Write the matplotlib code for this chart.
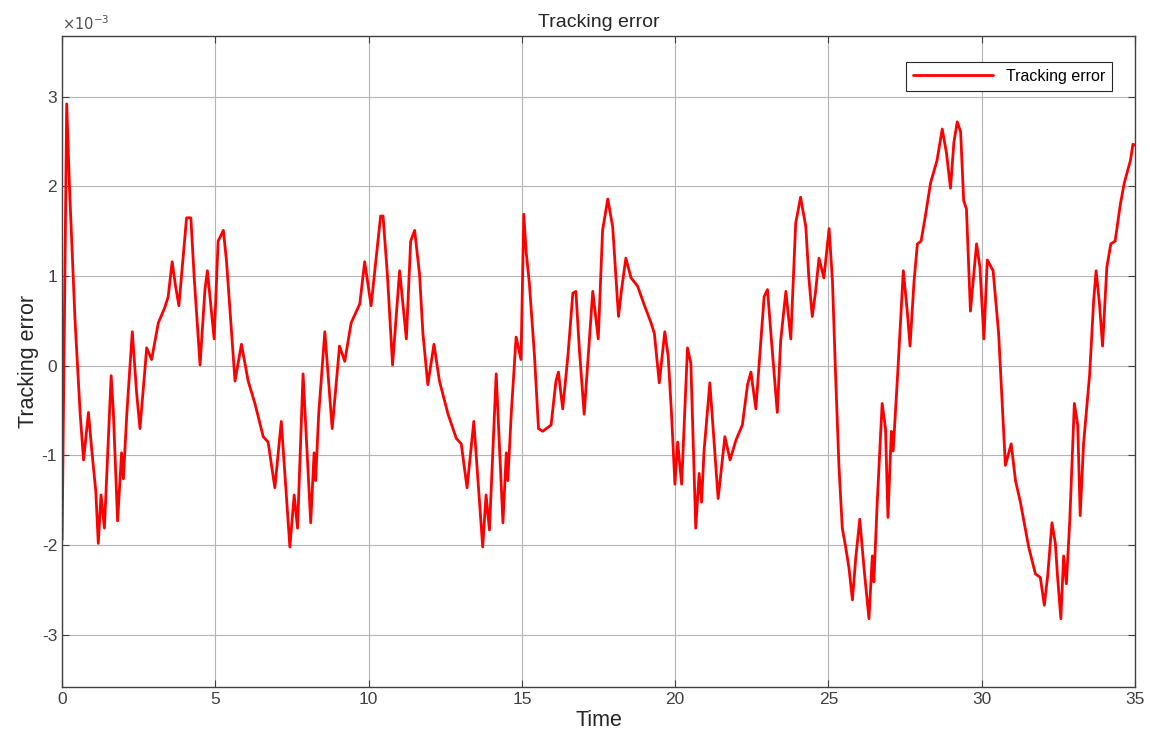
import numpy as np
import matplotlib.pyplot as plt

# Tracking error (units of 1e-3)
t = [0.0, 0.15, 0.24, 0.42, 0.51, 0.59, 0.70, 0.86, 0.97, 1.10, 1.18, 1.27, 1.38,
     1.60, 1.67, 1.81, 1.94, 2.00, 2.11, 2.29, 2.43, 2.54, 2.76, 2.92, 3.14, 3.35,
     3.46, 3.59, 3.70, 3.81, 3.90, 4.06, 4.20, 4.31, 4.50, 4.66, 4.74, 4.96, 5.09,
     5.26, 5.36, 5.53, 5.64, 5.85, 6.07, 6.29, 6.56, 6.72, 6.94, 7.15, 7.43, 7.57,
     7.68, 7.86, 8.11, 8.22, 8.27, 8.37, 8.57, 8.70, 8.81, 9.05, 9.22, 9.43, 9.71,
     9.87, 10.08, 10.39, 10.47, 10.61, 10.78, 11.01, 11.23, 11.37, 11.50, 11.66,
     11.77, 11.93, 12.13, 12.31, 12.59, 12.86, 13.02, 13.21, 13.43, 13.72, 13.83,
     13.94, 14.16, 14.38, 14.49, 14.54, 14.65, 14.81, 14.97, 15.06, 15.14, 15.24,
     15.41, 15.54, 15.68, 15.95, 16.11, 16.19, 16.33, 16.50, 16.66, 16.76, 16.87,
     17.03, 17.31, 17.49, 17.63, 17.80, 17.96, 18.07, 18.15, 18.25, 18.39, 18.56,
     18.77, 18.99, 19.21, 19.32, 19.48, 19.66, 19.77, 19.88, 19.99, 20.08, 20.21,
     20.40, 20.51, 20.67, 20.78, 20.86, 20.94, 21.13, 21.40, 21.62, 21.79, 21.98,
     22.19, 22.36, 22.47, 22.63, 22.74, 22.90, 23.01, 23.14, 23.33, 23.44, 23.61,
     23.77, 23.93, 24.09, 24.26, 24.36, 24.47, 24.58, 24.69, 24.85, 25.02, 25.13,
     25.23, 25.34, 25.45, 25.56, 25.67, 25.78, 25.89, 26.02, 26.16, 26.32, 26.43,
     26.48, 26.59, 26.75, 26.86, 26.94, 27.05, 27.11, 27.27, 27.44, 27.57, 27.66,
     27.79, 27.90, 28.02, 28.16, 28.33, 28.54, 28.71, 28.85, 28.98, 29.09, 29.20,
     29.31, 29.41, 29.50, 29.63, 29.83, 29.94, 30.07, 30.18, 30.37, 30.55, 30.66,
     30.77, 30.96, 31.10, 31.26, 31.53, 31.75, 31.91, 32.04, 32.15, 32.29, 32.40,
     32.47, 32.58, 32.67, 32.76, 32.87, 33.02, 33.13, 33.21, 33.32, 33.52, 33.65,
     33.73, 33.84, 33.94, 34.08, 34.21, 34.35, 34.52, 34.65, 34.85, 34.93, 35.0]
err = [-1.94, 2.92, 2.00, 0.52, -0.05, -0.54, -1.05, -0.52, -0.95, -1.40, -1.98,
       -1.44, -1.81, -0.11, -0.50, -1.73, -0.97, -1.26, -0.54, 0.38, -0.30, -0.70,
       0.20, 0.07, 0.48, 0.65, 0.77, 1.16, 0.89, 0.67, 1.02, 1.65, 1.65, 0.98, 0.01,
       0.85, 1.06, 0.30, 1.39, 1.51, 1.18, 0.36, -0.17, 0.24, -0.17, -0.42, -0.79,
       -0.85, -1.36, -0.62, -2.02, -1.44, -1.81, -0.09, -1.75, -0.97, -1.28, -0.54,
       0.38, -0.21, -0.70, 0.22, 0.05, 0.48, 0.69, 1.16, 0.67, 1.67, 1.67, 1.02,
       0.01, 1.06, 0.30, 1.39, 1.51, 1.02, 0.36, -0.21, 0.24, -0.17, -0.54, -0.81,
       -0.87, -1.36, -0.62, -2.02, -1.44, -1.83, -0.09, -1.75, -0.97, -1.28, -0.54,
       0.32, 0.07, 1.69, 1.26, 0.93, 0.11, -0.70, -0.73, -0.66, -0.17, -0.07, -0.48,
       0.11, 0.81, 0.83, 0.20, -0.54, 0.83, 0.30, 1.51, 1.86, 1.55, 0.98, 0.55, 0.85,
       1.20, 0.98, 0.89, 0.68, 0.48, 0.36, -0.19, 0.38, 0.11, -0.54, -1.32, -0.85,
       -1.32, 0.20, 0.03, -1.81, -1.20, -1.52, -0.95, -0.19, -1.48, -0.79, -1.05,
       -0.83, -0.66, -0.21, -0.07, -0.48, 0.03, 0.77, 0.85, 0.28, -0.52, 0.28, 0.83,
       0.30, 1.59, 1.88, 1.55, 0.98, 0.55, 0.83, 1.20, 0.98, 1.53, 0.94, -0.09,
       -1.11, -1.81, -2.02, -2.26, -2.61, -2.14, -1.71, -2.26, -2.82, -2.12, -2.41,
       -1.52, -0.42, -0.70, -1.69, -0.73, -0.95, -0.01, 1.06, 0.61, 0.22, 0.94, 1.36,
       1.39, 1.67, 2.04, 2.29, 2.64, 2.37, 1.98, 2.49, 2.72, 2.61, 1.84, 1.75, 0.61,
       1.36, 1.10, 0.30, 1.18, 1.06, 0.36, -0.38, -1.11, -0.87, -1.28, -1.52, -2.02,
       -2.32, -2.36, -2.67, -2.34, -1.75, -1.98, -2.34, -2.82, -2.12, -2.43, -1.73,
       -0.42, -0.66, -1.67, -0.87, -0.09, 0.73, 1.06, 0.69, 0.22, 1.10, 1.36, 1.39,
       1.80, 2.04, 2.29, 2.47, 2.46]

x_ticks = [0, 5, 10, 15, 20, 25, 30, 35]
y_ticks = [-3, -2, -1, 0, 1, 2, 3]

plt.rcParams['font.family'] = ['Liberation Sans', 'DejaVu Sans']
plt.rcParams['axes.unicode_minus'] = False

fig = plt.figure(figsize=(11.5, 7.45), dpi=100)
ax = fig.add_axes([0.054, 0.078, 0.933, 0.874])

ax.plot(t, err, color='#ff0000', linewidth=2.0, label='Tracking error',
        solid_joinstyle='round', solid_capstyle='round')

ax.set_xlim(0, 35)
ax.set_ylim(-3.58, 3.68)
ax.set_xticks(x_ticks)
ax.set_yticks(y_ticks)
ax.grid(True, color='#b4b4b4', linewidth=0.8)
ax.set_axisbelow(True)
ax.tick_params(direction='in', top=True, right=True, labelsize=12.5,
               colors='#404040', length=5)
for s in ax.spines.values():
    s.set_color('#404040')
    s.set_linewidth(1.0)

ax.set_title('Tracking error', fontsize=14, color='#262626', pad=6)
ax.set_xlabel('Time', fontsize=15.5, color='#262626', labelpad=2)
ax.set_ylabel('Tracking error', fontsize=15.5, color='#262626', labelpad=2)
ax.text(0.0, 1.004, r'$\times10^{-3}$', transform=ax.transAxes, fontsize=10.5,
        color='#505050', ha='left', va='bottom')

leg = ax.legend(loc='upper right', bbox_to_anchor=(0.9786, 0.960), fontsize=11.5,
                fancybox=False, framealpha=1, edgecolor='#262626',
                handlelength=5.0, borderpad=0.45, borderaxespad=0)
leg.get_frame().set_linewidth(0.8)

fig.savefig('out.png', dpi=100)
